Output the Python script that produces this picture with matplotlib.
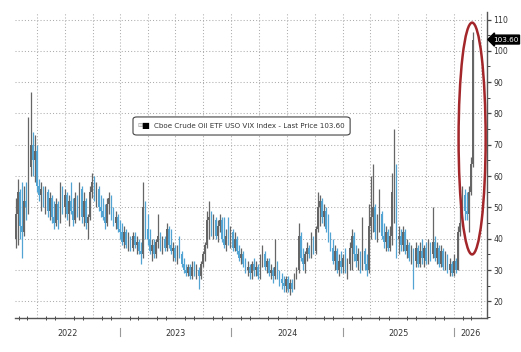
import numpy as np
import pandas as pd
import matplotlib as mtp
mtp.use("Agg")
import matplotlib.pyplot as plt
import matplotlib.dates as mdates
from matplotlib.patches import Ellipse, FancyBboxPatch

# weekly OHLC of the OVX index
start_week = "2022-01-21"
opens = [40, 48, 55, 44, 42, 52, 50, 63, 70, 65,
         68, 57, 54, 56, 51, 55, 49, 53, 47, 45,
         51, 46, 55, 50, 54, 48, 52, 49, 46, 53,
         48, 56, 47, 52, 45, 47, 55, 58, 54, 56,
         50, 49, 47, 45, 51, 53, 47, 45, 47, 43,
         42, 39, 42, 38, 40, 37, 41, 38, 39, 36,
         35, 50, 43, 40, 36, 38, 35, 39, 41, 37,
         40, 37, 43, 38, 36, 37, 34, 36, 35, 32,
         30, 29, 31, 28, 31, 29, 30, 28, 32, 35,
         38, 46, 47, 43, 46, 41, 44, 46, 40, 38,
         41, 39, 42, 37, 40, 36, 34, 35, 32, 30,
         31, 29, 32, 30, 31, 28, 33, 35, 31, 33,
         29, 30, 28, 31, 28, 27, 26, 25, 27, 24,
         26, 24, 28, 30, 41, 34, 32, 35, 37, 35,
         40, 36, 43, 50, 52, 47, 49, 43, 40, 37,
         33, 36, 30, 33, 31, 34, 30, 32, 37, 41,
         35, 33, 35, 31, 36, 32, 30, 44, 47, 50,
         42, 45, 48, 41, 39, 42, 37, 41, 55, 62,
         40, 41, 38, 42, 36, 38, 34, 36, 33, 37,
         32, 36, 34, 37, 33, 38, 35, 39, 34, 37,
         32, 36, 31, 34, 30, 32, 29, 33, 30, 42,
         45, 54, 49, 48, 55, 64]
highs = [53, 59, 56, 58, 57, 58, 79, 87, 74, 73,
         70, 59, 58, 57, 57, 56, 55, 54, 52, 53,
         52, 58, 57, 56, 55, 54, 58, 53, 55, 54,
         58, 57, 55, 53, 48, 57, 61, 60, 58, 57,
         54, 53, 51, 53, 55, 54, 50, 49, 48, 46,
         45, 44, 43, 42, 41, 42, 42, 41, 40, 39,
         58, 52, 48, 43, 40, 40, 40, 48, 42, 41,
         41, 45, 44, 43, 39, 38, 38, 41, 36, 34,
         32, 32, 32, 33, 33, 32, 31, 33, 36, 39,
         49, 52, 49, 48, 47, 46, 48, 47, 47, 43,
         47, 44, 43, 42, 41, 38, 37, 36, 34, 33,
         32, 33, 34, 33, 32, 35, 38, 36, 34, 34,
         32, 31, 40, 33, 30, 29, 28, 28, 28, 27,
         27, 29, 31, 45, 42, 37, 36, 39, 38, 42,
         41, 44, 55, 54, 53, 51, 50, 48, 42, 40,
         38, 37, 35, 36, 35, 37, 34, 39, 43, 42,
         38, 37, 36, 47, 37, 35, 51, 60, 64, 51,
         48, 56, 49, 45, 44, 43, 44, 61, 75, 64,
         44, 43, 44, 43, 40, 39, 38, 37, 39, 38,
         39, 40, 38, 39, 40, 39, 50, 41, 39, 38,
         38, 37, 36, 35, 34, 33, 35, 34, 44, 56,
         57, 56, 55, 57, 66, 106]
lows = [37, 38, 40, 34, 41, 46, 48, 60, 60, 58,
        55, 52, 49, 50, 48, 47, 46, 45, 43, 44,
        43, 45, 48, 47, 46, 44, 48, 44, 45, 47,
        46, 45, 44, 43, 40, 46, 53, 52, 50, 49,
        47, 46, 43, 44, 48, 46, 44, 43, 42, 40,
        38, 37, 37, 36, 36, 36, 37, 35, 35, 32,
        34, 40, 38, 35, 33, 34, 34, 37, 36, 35,
        36, 36, 37, 35, 33, 33, 32, 34, 31, 29,
        28, 28, 27, 27, 28, 27, 24, 27, 31, 33,
        37, 40, 41, 40, 40, 39, 42, 39, 37, 36,
        38, 37, 36, 36, 35, 33, 32, 31, 29, 28,
        27, 27, 28, 28, 27, 27, 31, 30, 29, 28,
        27, 26, 27, 27, 25, 24, 23, 23, 23, 22,
        23, 24, 27, 29, 33, 30, 29, 33, 34, 34,
        35, 35, 42, 44, 45, 44, 42, 39, 36, 32,
        30, 29, 28, 29, 29, 29, 27, 30, 30, 33,
        31, 30, 29, 30, 30, 28, 29, 40, 42, 40,
        39, 42, 40, 37, 36, 36, 36, 38, 45, 34,
        35, 36, 36, 35, 34, 33, 32, 24, 31, 31,
        31, 32, 31, 32, 32, 33, 34, 33, 32, 31,
        31, 30, 30, 29, 28, 28, 28, 29, 30, 41,
        44, 46, 46, 42, 54, 63]
closes = [48, 55, 44, 42, 52, 50, 63, 70, 65, 68,
          57, 54, 56, 51, 55, 49, 53, 47, 45, 51,
          46, 55, 50, 54, 48, 52, 49, 46, 53, 48,
          56, 47, 52, 45, 47, 55, 58, 54, 56, 50,
          49, 47, 45, 51, 53, 47, 45, 47, 43, 42,
          39, 42, 38, 40, 37, 41, 38, 39, 36, 35,
          50, 43, 40, 36, 38, 35, 39, 41, 37, 40,
          37, 43, 38, 36, 37, 34, 36, 35, 32, 30,
          29, 31, 28, 31, 29, 30, 28, 32, 35, 38,
          46, 47, 43, 46, 41, 44, 46, 40, 38, 41,
          39, 42, 37, 40, 36, 34, 35, 32, 30, 31,
          29, 32, 30, 31, 28, 33, 35, 31, 33, 29,
          30, 28, 31, 28, 27, 26, 25, 27, 24, 26,
          24, 28, 30, 41, 34, 32, 35, 37, 35, 40,
          36, 43, 50, 52, 47, 49, 43, 40, 37, 33,
          36, 30, 33, 31, 34, 30, 32, 37, 41, 35,
          33, 35, 31, 36, 32, 30, 44, 47, 50, 42,
          45, 48, 41, 39, 42, 37, 41, 55, 62, 40,
          41, 38, 42, 36, 38, 34, 36, 33, 37, 32,
          36, 34, 37, 33, 38, 35, 39, 34, 37, 32,
          36, 31, 34, 30, 32, 29, 33, 30, 42, 45,
          54, 49, 48, 55, 64, 103.6]

year_labels = ["2022", "2023", "2024", "2025", "2026"]
y_ticks = [20, 30, 40, 50, 60, 70, 80, 90, 100, 110]
last_price = 103.60
series_name = "Cboe Crude Oil ETF USO VIX Index - Last Price 103.60"

BLUE = "#52a4d2"
GRAY = "#666666"

fig = plt.figure(figsize=(5.21, 3.52), dpi=100)
ax = fig.add_axes([15 / 521, 34 / 352, 472 / 521, 306 / 352])

dates = pd.date_range(start_week, periods=len(closes), freq="W-FRI")
x = mdates.date2num(dates)
o = np.array(opens, dtype=float)
c = np.array(closes, dtype=float)
cols = np.where(c >= o, GRAY, BLUE)

ax.vlines(x, lows, highs, colors=cols, lw=0.9, zorder=3)
ax.bar(x, c - o, bottom=o, width=5.0, color=cols, lw=0, zorder=3)

x_left = mdates.date2num(pd.Timestamp("2022-01-19"))
x_right = mdates.date2num(pd.Timestamp("2026-04-21"))
ax.set_xlim(x_left, x_right)
ax.set_ylim(14.7, 112.4)

# grid
ax.set_yticks(y_ticks)
ax.set_yticks(np.arange(15, 112, 5), minor=True)
ax.xaxis.set_major_locator(mdates.MonthLocator(bymonth=[1, 4, 7, 10]))
ax.xaxis.set_minor_locator(mdates.MonthLocator())
ax.grid(True, which="major", color="#adadad", ls=(0, (1, 2)), lw=0.75)
ax.set_axisbelow(True)

ax.yaxis.tick_right()
ax.tick_params(axis="y", which="major", length=3, width=0.9, color="#444",
               labelsize=5.6, labelcolor="#333", pad=1.5)
ax.tick_params(axis="y", which="minor", length=2, width=0.7, color="#444")
ax.tick_params(axis="x", which="major", length=0, labelbottom=False)
ax.tick_params(axis="x", which="minor", length=2.5, width=0.7, color="#444",
               direction="inout")

for s in ["left", "top"]:
    ax.spines[s].set_visible(False)
for s in ["right", "bottom"]:
    ax.spines[s].set_color("#555")
    ax.spines[s].set_linewidth(1.0)

# year separators and labels under the axis
tr = ax.get_xaxis_transform()
bounds = [x_left] + [mdates.date2num(pd.Timestamp(f"{y}-01-01")) for y in year_labels[1:]] + [x_right]
for i, lab in enumerate(year_labels):
    if i > 0:
        ax.plot([bounds[i], bounds[i]], [-0.032, -0.06], color="#999", lw=0.8,
                transform=tr, clip_on=False)
    ax.text((bounds[i] + bounds[i + 1]) / 2, -0.05, lab, transform=tr,
            ha="center", va="center", fontsize=5.8, color="#333")

# legend box
box = FancyBboxPatch((0.25, 0.598), 0.46, 0.059, transform=ax.transAxes,
                     boxstyle="round,pad=0,rounding_size=0.008",
                     fc="white", ec="#444", lw=0.8, zorder=5)
ax.add_patch(box)
ax.text(0.2585, 0.6275, "\u229f", transform=ax.transAxes, ha="left", va="center",
        fontsize=4.5, color="#999", zorder=6)
ax.text(0.2685, 0.6275, "\u25a0", transform=ax.transAxes, ha="left", va="center",
        fontsize=6, color="black", zorder=6)
ax.text(0.2945, 0.6275, series_name, transform=ax.transAxes, ha="left", va="center",
        fontsize=5.1, color="#333", zorder=6)

# last price tag
ax.text(1.012, last_price, f"{last_price:.2f}", transform=ax.get_yaxis_transform(),
        ha="left", va="center", fontsize=5.2, color="white", zorder=7,
        bbox=dict(boxstyle="larrow,pad=0.2", fc="black", ec="black"), clip_on=False)

# red ellipse around the 2026 spike
xc = mdates.date2num(pd.Timestamp("2026-03-03"))
ax.add_patch(Ellipse((xc, 72), width=89, height=74, fill=False,
                     ec="#a3262a", lw=1.8, zorder=4))

fig.savefig("out.png", dpi=100, facecolor="white")
